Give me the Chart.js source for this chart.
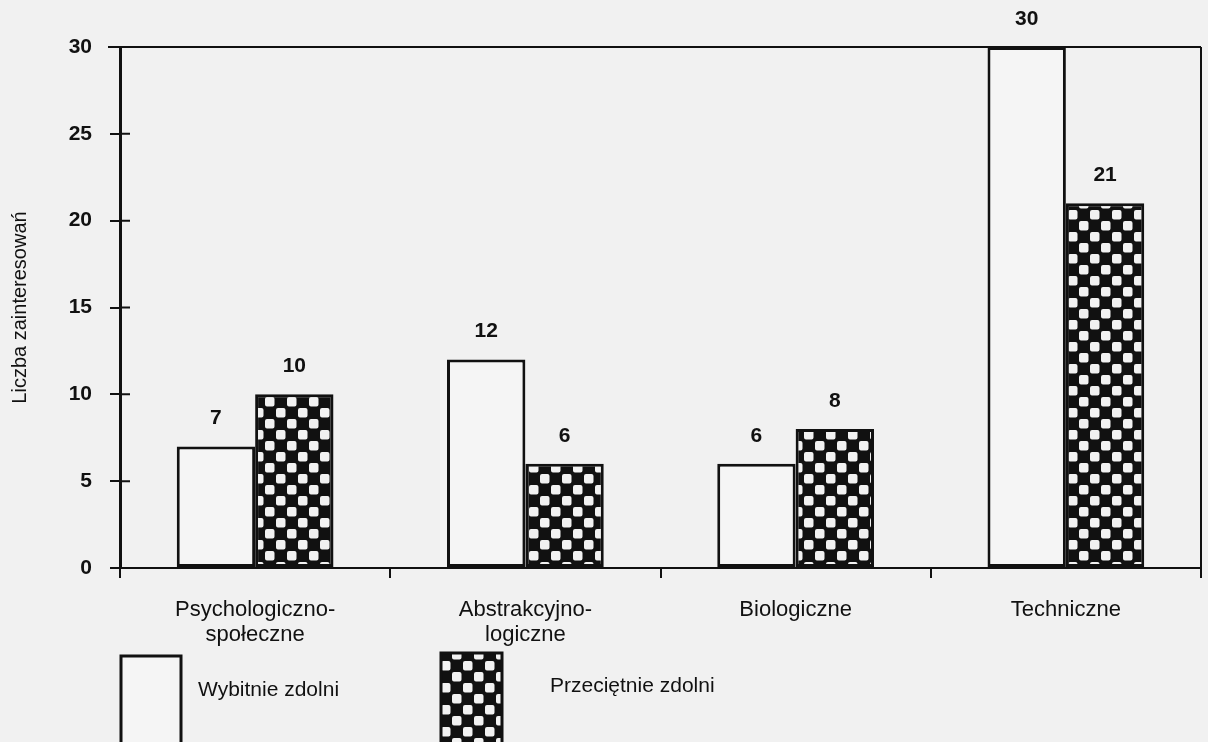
<!DOCTYPE html>
<html>
<head>
<meta charset="utf-8">
<script src="https://cdn.jsdelivr.net/npm/chart.js@4.4.0/dist/chart.umd.min.js"></script>
<style>
  body { margin: 0; background: #f1f1f1; }
  #wrap { width: 1208px; height: 742px; }
</style>
</head>
<body>
<div id="wrap"><canvas id="chart" width="1208" height="742"></canvas></div>
<script>
// --- data ---
const categories = [['Psychologiczno-', 'społeczne'], ['Abstrakcyjno-', 'logiczne'], ['Biologiczne'], ['Techniczne']];
const seriesNames = ['Wybitnie zdolni', 'Przeciętnie zdolni'];
const wybitnieZdolni = [7, 12, 6, 30];
const przecietnieZdolni = [10, 6, 8, 21];
const yMin = 0, yMax = 30, yStep = 5;
const yTitle = 'Liczba zainteresowań';

const INK = '#111';
const PAPER = '#f5f5f5';
const FONT = '"Liberation Sans", Arial, sans-serif';

const ctx = document.getElementById('chart').getContext('2d');

// checkerboard fill like the printed original
function makeChecker() {
    const c = document.createElement('canvas');
    c.width = 22; c.height = 22;
    const g = c.getContext('2d');
    g.fillStyle = INK;
    g.fillRect(0, 0, 22, 22);
    g.fillStyle = '#f2f2f2';
    g.beginPath();
    g.roundRect(1, 1, 9.5, 9.5, 2);
    g.roundRect(12, 12, 9.5, 9.5, 2);
    g.fill();
    return ctx.createPattern(c, 'repeat');
}
const checker = makeChecker();

// numbers above bars
const valueLabels = {
    id: 'valueLabels',
    afterDatasetsDraw(chart) {
        const c = chart.ctx;
        c.save();
        c.font = 'bold 21px ' + FONT;
        c.fillStyle = INK;
        c.textAlign = 'center';
        c.textBaseline = 'middle';
        chart.data.datasets.forEach((ds, i) => {
            chart.getDatasetMeta(i).data.forEach((bar, j) => {
                c.fillText(String(ds.data[j]), bar.x, bar.y - 28);
            });
        });
        c.restore();
    }
};

// top / right frame lines and tick marks crossing the y axis
const frame = {
    id: 'frame',
    afterDraw(chart) {
        const c = chart.ctx;
        const a = chart.chartArea;
        const y = chart.scales.y;
        c.save();
        c.strokeStyle = INK;
        c.lineWidth = 2;
        c.beginPath();
        c.moveTo(a.left - 12, a.top);
        c.lineTo(a.right, a.top);
        c.moveTo(a.right, a.top);
        c.lineTo(a.right, a.bottom);
        y.ticks.forEach(t => {
            const py = y.getPixelForValue(t.value);
            c.moveTo(a.left, py);
            c.lineTo(a.left + 10, py);
        });
        c.stroke();
        c.restore();
    }
};

// legend boxes at the foot, partly cut by the page edge
const footLegend = {
    id: 'footLegend',
    afterDraw(chart) {
        const c = chart.ctx;
        const items = [
            { x: 121, y: 656, w: 60, tx: 198, ty: 690 },
            { x: 441, y: 653, w: 61, tx: 550, ty: 686 }
        ];
        c.save();
        items.forEach((it, i) => {
            const ds = chart.data.datasets[i];
            c.fillStyle = ds.backgroundColor;
            c.fillRect(it.x, it.y, it.w, 100);
            c.strokeStyle = INK;
            c.lineWidth = 3;
            c.strokeRect(it.x, it.y, it.w, 100);
            c.fillStyle = INK;
            c.font = '21px ' + FONT;
            c.textAlign = 'left';
            c.textBaseline = 'middle';
            c.fillText(ds.label, it.tx, it.ty);
        });
        c.restore();
    }
};

new Chart(ctx, {
    type: 'bar',
    data: {
        labels: categories,
        datasets: [
            {
                label: seriesNames[0],
                data: wybitnieZdolni,
                backgroundColor: PAPER,
                borderColor: INK,
                borderWidth: 3,
                borderSkipped: false
            },
            {
                label: seriesNames[1],
                data: przecietnieZdolni,
                backgroundColor: checker,
                borderColor: INK,
                borderWidth: 3,
                borderSkipped: false
            }
        ]
    },
    options: {
        responsive: false,
        devicePixelRatio: 1,
        animation: false,
        layout: { padding: { left: 0, top: 47, right: 7, bottom: 0 } },
        datasets: { bar: { categoryPercentage: 0.58, barPercentage: 1.0 } },
        scales: {
            x: {
                afterFit: (s) => { s.height = 174; },
                grid: { drawOnChartArea: false, color: INK, lineWidth: 2, tickLength: 10, offset: true },
                border: { color: INK, width: 2 },
                ticks: {
                    color: INK,
                    font: { family: FONT, size: 22, lineHeight: 1.15 },
                    padding: 19,
                    maxRotation: 0
                }
            },
            y: {
                min: yMin,
                max: yMax,
                afterFit: (s) => { s.width = 120; },
                grid: { drawOnChartArea: false, color: INK, lineWidth: 2, tickLength: 10 },
                border: { color: INK, width: 3 },
                ticks: {
                    stepSize: yStep,
                    color: INK,
                    font: { family: FONT, size: 21, weight: 'bold' },
                    padding: 18
                },
                title: {
                    display: true,
                    text: yTitle,
                    color: INK,
                    font: { family: FONT, size: 20 },
                    padding: { top: 8, bottom: 0 }
                }
            }
        },
        plugins: {
            legend: { display: false },
            tooltip: { enabled: false }
        }
    },
    plugins: [valueLabels, frame, footLegend]
});
</script>
</body>
</html>
